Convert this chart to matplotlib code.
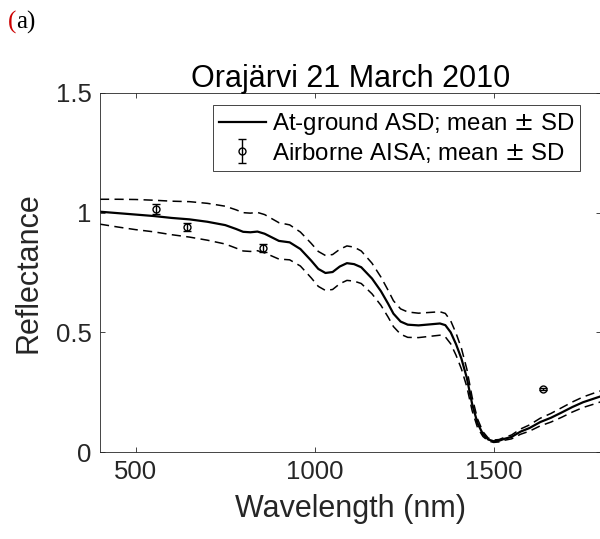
import matplotlib
matplotlib.use("Agg")
import matplotlib.pyplot as plt

# ---- data ----
wavelength = [400, 450, 500, 550, 600, 650, 700, 750, 780, 800, 820, 840, 860, 880,
              900, 930, 960, 990, 1010, 1030, 1050, 1070, 1090, 1110, 1130, 1160,
              1185, 1205, 1220, 1240, 1260, 1290, 1320, 1350, 1365, 1380, 1395,
              1410, 1425, 1440, 1455, 1470, 1485, 1500, 1515, 1530, 1550, 1575,
              1600, 1630, 1660, 1690, 1720, 1750, 1780, 1800]
asd_mean = [1.004, 0.998, 0.992, 0.986, 0.978, 0.972, 0.962, 0.948, 0.932, 0.920,
            0.918, 0.921, 0.912, 0.897, 0.882, 0.876, 0.848, 0.800, 0.765, 0.748,
            0.752, 0.775, 0.789, 0.785, 0.772, 0.725, 0.672, 0.620, 0.578, 0.545,
            0.532, 0.529, 0.533, 0.537, 0.530, 0.500, 0.450, 0.390, 0.310, 0.200,
            0.120, 0.075, 0.052, 0.045, 0.047, 0.055, 0.063, 0.085, 0.100, 0.125,
            0.143, 0.165, 0.188, 0.208, 0.223, 0.233]
asd_sd = [0.052, 0.058, 0.063, 0.066, 0.070, 0.074, 0.077, 0.079, 0.080, 0.080,
          0.080, 0.080, 0.080, 0.078, 0.076, 0.073, 0.071, 0.072, 0.073, 0.073,
          0.073, 0.072, 0.072, 0.071, 0.068, 0.064, 0.059, 0.056, 0.054, 0.053,
          0.053, 0.051, 0.050, 0.049, 0.049, 0.048, 0.046, 0.043, 0.037, 0.028,
          0.018, 0.010, 0.006, 0.005, 0.005, 0.006, 0.008, 0.011, 0.013, 0.016,
          0.018, 0.020, 0.021, 0.022, 0.023, 0.023]

aisa_wavelength = [556, 644, 856, 1637]
aisa_mean = [1.015, 0.939, 0.852, 0.262]
aisa_sd = [0.021, 0.017, 0.018, 0.005]

xticks = [500, 1000, 1500]
yticks = [0, 0.5, 1, 1.5]
ytick_labels = ["0", "0.5", "1", "1.5"]

title = "Orajärvi 21 March 2010"
xlabel = "Wavelength (nm)"
ylabel = "Reflectance"
legend_labels = ["At-ground ASD; mean $\\pm$ SD", "Airborne AISA; mean $\\pm$ SD"]

# ---- style ----
plt.rcParams["font.family"] = ["Liberation Sans", "DejaVu Sans"]
plt.rcParams["mathtext.fontset"] = "custom"
plt.rcParams["mathtext.rm"] = "DejaVu Sans"
dark = "#262626"

fig = plt.figure(figsize=(6.0, 5.39), dpi=100)
ax = fig.add_axes([100 / 600, 87 / 539, 501 / 600, 359 / 539])

upper = [m + s for m, s in zip(asd_mean, asd_sd)]
lower = [m - s for m, s in zip(asd_mean, asd_sd)]

line_mean, = ax.plot(wavelength, asd_mean, color="black", lw=1.6, label=legend_labels[0])
ax.plot(wavelength, upper, color="black", lw=1.1, ls=(0, (6, 3.5)))
ax.plot(wavelength, lower, color="black", lw=1.1, ls=(0, (6, 3.5)))

eb = ax.errorbar(aisa_wavelength, aisa_mean, yerr=aisa_sd, fmt="o", mfc="none",
                 mec="black", ecolor="black", ms=5, mew=1.0, elinewidth=1.0,
                 capsize=3, capthick=1.0, label=legend_labels[1])

ax.set_xlim(400, 1800)
ax.set_ylim(0, 1.5)
ax.set_xticks(xticks)
ax.set_yticks(yticks)
ax.set_yticklabels(ytick_labels)
ax.tick_params(direction="in", length=3.5, width=0.6, top=True, right=True,
               labelsize=18.5, colors=dark, pad=6)
for sp in ax.spines.values():
    sp.set_color(dark)
    sp.set_linewidth(0.6)

ax.set_title(title, fontsize=22, color="black", pad=4)
ax.set_xlabel(xlabel, fontsize=22, color=dark, labelpad=7)
ax.set_ylabel(ylabel, fontsize=22, color=dark, labelpad=9)

leg = ax.legend(handles=[line_mean, eb], loc="upper right",
                bbox_to_anchor=(480 / 501, 347 / 359), fontsize=17.3,
                frameon=True, fancybox=False, framealpha=1, edgecolor=dark,
                handlelength=1.95, handletextpad=0.25, borderpad=0.25,
                labelspacing=0.15, borderaxespad=0)
leg.get_frame().set_linewidth(0.6)

t1 = fig.text(8 / 600, 1 - 29 / 539, "(", color="#cc0000", fontsize=18,
              family=["Liberation Serif"], va="baseline")
fig.canvas.draw()
ax.annotate("a)", xy=(1, 0), xycoords=t1, va="bottom", ha="left",
            fontsize=18, family=["Liberation Serif"], color="black")

fig.savefig("out.png", dpi=100)
